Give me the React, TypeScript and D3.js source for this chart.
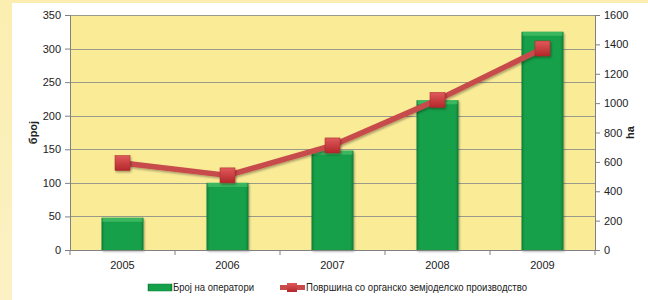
import { useEffect, useRef } from "react";
import * as d3 from "d3";

const years = ["2005", "2006", "2007", "2008", "2009"];
const operators = [48, 100, 148, 223, 325];
const area = [592, 508, 712, 1022, 1372];
const leftTicks = [0, 50, 100, 150, 200, 250, 300, 350];
const rightTicks = [0, 200, 400, 600, 800, 1000, 1200, 1400, 1600];
const barLabel = "Број на оператори";
const lineLabel = "Површина со органско земјоделско производство";

export default function App() {
  const ref = useRef<SVGSVGElement | null>(null);

  useEffect(() => {
    if (!ref.current) return;
    const svg = d3.select(ref.current);
    svg.selectAll("*").remove();

    const W = 648, H = 300;
    const margin = { top: 15, right: 53, bottom: 50, left: 70 };
    const w = W - margin.left - margin.right;
    const h = H - margin.top - margin.bottom;
    const font = "'Liberation Sans', Arial, sans-serif";
    const fs = "11px";

    const defs = svg.append("defs");
    const bg = defs.append("linearGradient").attr("id", "bgGrad").attr("x1", 0).attr("x2", 0).attr("y1", 0).attr("y2", 1);
    bg.append("stop").attr("offset", "0%").attr("stop-color", "#fbeeb0");
    bg.append("stop").attr("offset", "100%").attr("stop-color", "#fcf1c4");
    const barGrad = defs.append("linearGradient").attr("id", "barGrad").attr("x1", 0).attr("x2", 1);
    barGrad.append("stop").attr("offset", "0%").attr("stop-color", "#0e7d38");
    barGrad.append("stop").attr("offset", "8%").attr("stop-color", "#15a04a");
    barGrad.append("stop").attr("offset", "92%").attr("stop-color", "#15a04a");
    barGrad.append("stop").attr("offset", "100%").attr("stop-color", "#0e7d38");
    const mkGrad = defs.append("linearGradient").attr("id", "mkGrad").attr("x1", 0).attr("x2", 0).attr("y1", 0).attr("y2", 1);
    mkGrad.append("stop").attr("offset", "0%").attr("stop-color", "#e05a5a");
    mkGrad.append("stop").attr("offset", "100%").attr("stop-color", "#b3262b");
    const shadow = defs.append("filter").attr("id", "shadow").attr("x", "-30%").attr("y", "-30%").attr("width", "160%").attr("height", "160%");
    shadow.append("feDropShadow").attr("dx", 1).attr("dy", 1.5).attr("stdDeviation", 1.2).attr("flood-color", "#000").attr("flood-opacity", 0.35);

    // page background + white panel
    svg.append("rect").attr("width", W).attr("height", H).attr("fill", "url(#bgGrad)");
    svg.append("rect").attr("x", 12).attr("y", 3).attr("width", W - 12).attr("height", H - 3).attr("fill", "#ffffff");

    const x = d3.scaleBand().domain(years).range([0, w]).paddingInner(0.6).paddingOuter(0.3);
    const xb = d3.scaleBand().domain(years).range([0, w]);
    const yL = d3.scaleLinear().domain([0, 350]).range([h, 0]);
    const yR = d3.scaleLinear().domain([0, 1600]).range([h, 0]);

    const g = svg.append("g").attr("transform", `translate(${margin.left},${margin.top})`);
    g.append("rect").attr("width", w).attr("height", h).attr("fill", "#faec97");

    // gridlines
    g.append("g").selectAll("line").data(leftTicks.filter(t => t > 0)).join("line")
      .attr("x1", 0).attr("x2", w)
      .attr("y1", d => Math.round(yL(d)) + 0.5).attr("y2", d => Math.round(yL(d)) + 0.5)
      .attr("stroke", "#9a9a8a").attr("stroke-width", 1);

    // bars
    g.append("g").selectAll("rect").data(operators).join("rect")
      .attr("x", (_, i) => x(years[i])!)
      .attr("y", d => yL(d))
      .attr("width", x.bandwidth())
      .attr("height", d => h - yL(d))
      .attr("fill", "url(#barGrad)")
      .attr("filter", "url(#shadow)");
    g.append("g").selectAll("rect").data(operators).join("rect")
      .attr("x", (_, i) => x(years[i])! + 1)
      .attr("y", d => yL(d))
      .attr("width", x.bandwidth() - 2)
      .attr("height", 4)
      .attr("fill", "#4cc06a")
      .attr("opacity", 0.7);

    // axes
    const axL = g.append("g").call(d3.axisLeft(yL).tickValues(leftTicks).tickSize(5).tickPadding(4));
    const axR = g.append("g").attr("transform", `translate(${w},0)`)
      .call(d3.axisRight(yR).tickValues(rightTicks).tickFormat(d3.format("d")).tickSize(5).tickPadding(4));
    const axB = g.append("g").attr("transform", `translate(0,${h})`)
      .call(d3.axisBottom(xb).tickSize(0).tickPadding(12));
    axB.selectAll(".tick").remove();
    axB.selectAll("line.bt").data(d3.range(years.length + 1)).join("line")
      .attr("x1", i => i * xb.bandwidth()).attr("x2", i => i * xb.bandwidth())
      .attr("y1", 0).attr("y2", 5).attr("stroke", "#808080");
    axB.selectAll("text.lbl").data(years).join("text")
      .attr("x", d => xb(d)! + xb.bandwidth() / 2).attr("y", 19)
      .attr("text-anchor", "middle").attr("fill", "#222")
      .style("font-size", fs).style("font-family", font).text(d => d);
    [axL, axR, axB].forEach(a => {
      a.selectAll(".domain").attr("stroke", "#808080");
      a.selectAll(".tick line").attr("stroke", "#808080");
      a.selectAll(".tick text").attr("fill", "#222").style("font-size", fs).style("font-family", font);
    });

    // line series
    const line = d3.line<number>()
      .x((_, i) => xb(years[i])! + xb.bandwidth() / 2)
      .y(d => yR(d));
    g.append("path").datum(area)
      .attr("fill", "none").attr("stroke", "#c84b4b").attr("stroke-width", 5.5)
      .attr("stroke-linejoin", "round").attr("d", line)
      .attr("filter", "url(#shadow)");
    const ms = 15;
    g.append("g").selectAll("rect").data(area).join("rect")
      .attr("x", (_, i) => xb(years[i])! + xb.bandwidth() / 2 - ms / 2)
      .attr("y", d => yR(d) - ms / 2)
      .attr("width", ms).attr("height", ms)
      .attr("fill", "url(#mkGrad)").attr("stroke", "#a82a2a").attr("stroke-width", 0.5)
      .attr("filter", "url(#shadow)");

    // axis titles
    svg.append("text").attr("transform", `translate(37,${margin.top + h / 2}) rotate(-90)`)
      .attr("text-anchor", "middle").style("font-size", "11px").style("font-weight", "bold")
      .style("font-family", font).attr("fill", "#222").text("број");
    svg.append("text").attr("transform", `translate(634,${margin.top + h / 2}) rotate(-90)`)
      .attr("text-anchor", "middle").style("font-size", "11px").style("font-weight", "bold")
      .style("font-family", font).attr("fill", "#222").text("ha");

    // legend
    const lg = svg.append("g").attr("transform", "translate(0,287)");
    lg.append("rect").attr("x", 148).attr("y", -3).attr("width", 24).attr("height", 7)
      .attr("fill", "url(#barGrad)").attr("stroke", "#0e7d38").attr("stroke-width", 0.5);
    lg.append("text").attr("x", 173).attr("y", 4).style("font-size", fs).style("font-family", font)
      .attr("textLength", 81).attr("lengthAdjust", "spacingAndGlyphs")
      .attr("fill", "#222").text(barLabel);
    lg.append("line").attr("x1", 280).attr("x2", 305).attr("y1", 0.5).attr("y2", 0.5)
      .attr("stroke", "#c84b4b").attr("stroke-width", 5);
    lg.append("rect").attr("x", 287).attr("y", -4).attr("width", 10).attr("height", 9)
      .attr("fill", "url(#mkGrad)");
    lg.append("text").attr("x", 306).attr("y", 4).style("font-size", fs).style("font-family", font)
      .attr("textLength", 221).attr("lengthAdjust", "spacingAndGlyphs")
      .attr("fill", "#222").text(lineLabel);
  }, []);

  return (
    <div style={{ position: "fixed", left: 0, top: 0, width: 648, height: 300 }}>
      <svg ref={ref} width={648} height={300} style={{ display: "block" }} />
    </div>
  );
}
